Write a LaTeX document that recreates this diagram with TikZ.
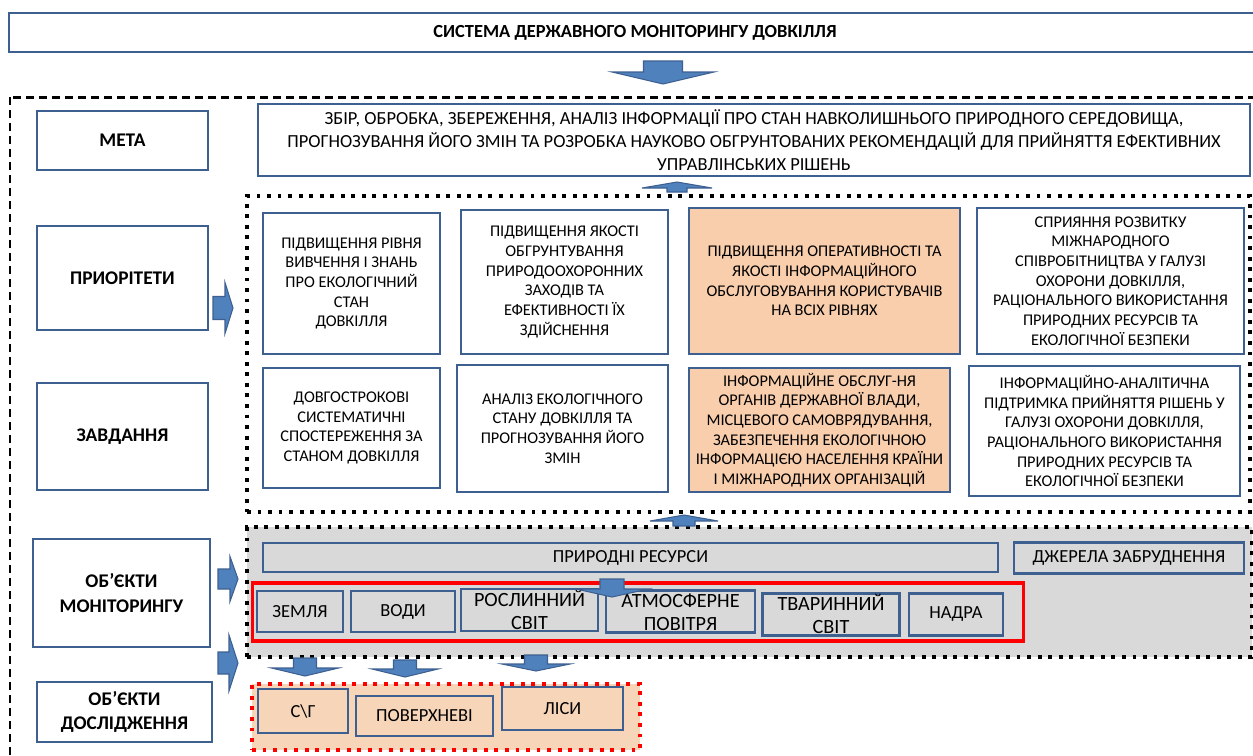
\documentclass[tikz,border=0pt]{standalone}
\usepackage{fontspec}
\setmainfont{Carlito}
\definecolor{bxblue}{HTML}{3D6090}
\definecolor{arfill}{HTML}{4F81BD}
\definecolor{peach}{HTML}{F9CEAC}
\definecolor{lpeach}{HTML}{F6D5B9}
\definecolor{lgray}{HTML}{D9D9D9}
\begin{document}
\begin{tikzpicture}[x=0.02cm,y=-0.02cm,
	sz/.style 2 args={minimum width=#1*0.02cm,minimum height=#2*0.02cm},
	bx/.style={draw=bxblue,line width=1.6pt,inner sep=1pt,align=center,font=\fontsize{9.3}{11.2}\selectfont},
	hd/.style={bx,fill=white,font=\fontsize{11}{14}\selectfont\bfseries},
	obj/.style={bx,fill=lgray,font=\fontsize{10.5}{13}\selectfont},
	two/.style={inner sep=0pt,text height=0.8cm,text depth=0.04cm,font=\fontsize{11.5}{13}\selectfont},
	res/.style={bx,fill=lpeach,font=\fontsize{10.5}{13}\selectfont},
	dotbox/.style={draw=black,line width=2.2pt,dash pattern=on 2.2pt off 3.8pt},
	blk/.style={draw=bxblue,fill=arfill,line width=0.6pt,line join=miter}]

	\useasboundingbox (0,0) rectangle (1253,755);
	\clip (0,0) rectangle (1253,755);

	\node[bx,sz={1252}{39},font=\fontsize{10.5}{12}\selectfont\bfseries] (sys) at (635,32.5) {СИСТЕМА ДЕРЖАВНОГО МОНІТОРИНГУ ДОВКІЛЛЯ};
	\draw[line width=1.7pt,dash pattern=on 4.6pt off 2.8pt] (10,97) rectangle (1265,765);

	\node[hd,sz={171}{59}] (meta) at (122.5,140.5) {МЕТА};
	\node[bx,sz={992}{72},font=\fontsize{10.5}{13}\selectfont] (goal) at (754,140) {ЗБІР, ОБРОБКА, ЗБЕРЕЖЕННЯ, АНАЛІЗ ІНФОРМАЦІЇ ПРО СТАН НАВКОЛИШНЬОГО ПРИРОДНОГО СЕРЕДОВИЩА,\\ПРОГНОЗУВАННЯ ЙОГО ЗМІН ТА РОЗРОБКА НАУКОВО ОБГРУНТОВАНИХ РЕКОМЕНДАЦІЙ ДЛЯ ПРИЙНЯТТЯ ЕФЕКТИВНИХ\\УПРАВЛІНСЬКИХ РІШЕНЬ};
	\node[hd,sz={171}{104}] (prior) at (122.5,278) {ПРИОРІТЕТИ};
	\node[hd,sz={171}{107}] (tasks) at (122.5,436.5) {ЗАВДАННЯ};
	\node[hd,sz={177}{108}] (monit) at (121.5,593) {ОБ’ЄКТИ\\МОНІТОРИНГУ};
	\node[hd,sz={175}{60}] (study) at (124.5,712) {ОБ’ЄКТИ\\ДОСЛІДЖЕННЯ};

	\node[dotbox,sz={1003}{316}] (prbox) at (748.5,354) {};
	\node[bx,sz={177}{141}] (p1) at (351.5,283.5) {ПІДВИЩЕННЯ РІВНЯ\\ВИВЧЕННЯ І ЗНАНЬ\\ПРО ЕКОЛОГІЧНИЙ\\СТАН\\ДОВКІЛЛЯ};
	\node[bx,sz={207}{144}] (p2) at (564.5,282) {ПІДВИЩЕННЯ ЯКОСТІ\\ОБГРУНТУВАННЯ\\ПРИРОДООХОРОННИХ\\ЗАХОДІВ ТА\\ЕФЕКТИВНОСТІ ЇХ\\ЗДІЙСНЕННЯ};
	\node[bx,fill=peach,sz={271}{146}] (p3) at (824.5,281) {ПІДВИЩЕННЯ ОПЕРАТИВНОСТІ ТА\\ЯКОСТІ ІНФОРМАЦІЙНОГО\\ОБСЛУГОВУВАННЯ КОРИСТУВАЧІВ\\НА ВСІХ РІВНЯХ};
	\node[bx,sz={267}{146}] (p4) at (1110.5,281) {СПРИЯННЯ РОЗВИТКУ\\МІЖНАРОДНОГО\\СПІВРОБІТНИЦТВА У ГАЛУЗІ\\ОХОРОНИ ДОВКІЛЛЯ,\\РАЦІОНАЛЬНОГО ВИКОРИСТАННЯ\\ПРИРОДНИХ РЕСУРСІВ ТА\\ЕКОЛОГІЧНОЇ БЕЗПЕКИ};
	\node[bx,sz={177}{120}] (t1) at (351.5,428) {ДОВГОСТРОКОВІ\\СИСТЕМАТИЧНІ\\СПОСТЕРЕЖЕННЯ ЗА\\СТАНОМ ДОВКІЛЛЯ};
	\node[bx,sz={211}{127}] (t2) at (562.5,428.5) {АНАЛІЗ ЕКОЛОГІЧНОГО\\СТАНУ ДОВКІЛЛЯ ТА\\ПРОГНОЗУВАННЯ ЙОГО\\ЗМІН};
	\node[bx,fill=peach,sz={261}{124}] (t3) at (819.5,430) {ІНФОРМАЦІЙНЕ ОБСЛУГ-НЯ\\ОРГАНІВ ДЕРЖАВНОЇ ВЛАДИ,\\МІСЦЕВОГО САМОВРЯДУВАННЯ,\\ЗАБЕЗПЕЧЕННЯ ЕКОЛОГІЧНОЮ\\ІНФОРМАЦІЄЮ НАСЕЛЕННЯ КРАЇНИ\\І МІЖНАРОДНИХ ОРГАНІЗАЦІЙ};
	\node[bx,sz={271}{130}] (t4) at (1104.5,431) {ІНФОРМАЦІЙНО-АНАЛІТИЧНА\\ПІДТРИМКА ПРИЙНЯТТЯ РІШЕНЬ У\\ГАЛУЗІ ОХОРОНИ ДОВКІЛЛЯ,\\РАЦІОНАЛЬНОГО ВИКОРИСТАННЯ\\ПРИРОДНИХ РЕСУРСІВ ТА\\ЕКОЛОГІЧНОЇ БЕЗПЕКИ};

	\node[dotbox,fill=lgray,sz={1005}{130}] (objbox) at (749.5,592) {};
	\node[obj,sz={735}{29}] (natres) at (630.5,557.5) {ПРИРОДНІ РЕСУРСИ};
	\node[obj,sz={230}{31}] (pollut) at (1129,558) {ДЖЕРЕЛА ЗАБРУДНЕННЯ};
	\node[draw=red,line width=2pt,sz={771}{58}] (redbox) at (638,612) {};
	\node[obj,sz={86}{41}] (land) at (300,611.5) {ЗЕМЛЯ};
	\node[obj,sz={104}{41}] (water) at (403,611.5) {ВОДИ};
	\node[obj,two,sz={137}{42}] (flora) at (529.5,610) {РОСЛИННИЙ\\СВІТ};
	\node[obj,two,sz={149}{41}] (air) at (680.5,611.5) {АТМОСФЕРНЕ\\ПОВІТРЯ};
	\node[obj,two,sz={137}{42}] (fauna) at (831,614.5) {ТВАРИННИЙ\\СВІТ};
	\node[obj,sz={94}{42}] (depths) at (956,614.5) {НАДРА};

	\node[dotbox,draw=red,fill=lpeach,sz={388}{66}] (resbox) at (446,717) {};
	\node[res,sz={90}{44}] (agri) at (303,711) {С\textbackslash Г};
	\node[res,sz={137}{40}] (surf) at (424.5,716) {ПОВЕРХНЕВІ};
	\node[res,sz={121}{43}] (forest) at (562.5,708.5) {ЛІСИ};

	\foreach \x/\ya/\yb/\s/\w/\h in {663/61/84/19.5/51/12, 677/192/182/10/35/-6, 684/526/515/11/34/-6,
		612/579/597/12/36/8, 305/658/676/11.5/33.5/8, 405/660/677/11.5/33/8, 536/655/671/11.5/34/7}
		\draw[blk] (\x-\s,\ya) -- (\x+\s,\ya) -- (\x+\s,\yb-\h) -- (\x+\w,\yb-\h) -- (\x,\yb)
			-- (\x-\w,\yb-\h) -- (\x-\s,\yb-\h) -- cycle;
	\foreach \xa/\xb/\y/\s/\w/\h in {213/233/308/11.5/25.5/8, 218/238/579/10/22.5/8, 218/238/663/11/28/9}
		\draw[blk] (\xa,\y-\s) -- (\xa,\y+\s) -- (\xb-\h,\y+\s) -- (\xb-\h,\y+\w) -- (\xb,\y)
			-- (\xb-\h,\y-\w) -- (\xb-\h,\y-\s) -- cycle;

\end{tikzpicture}
\end{document}
